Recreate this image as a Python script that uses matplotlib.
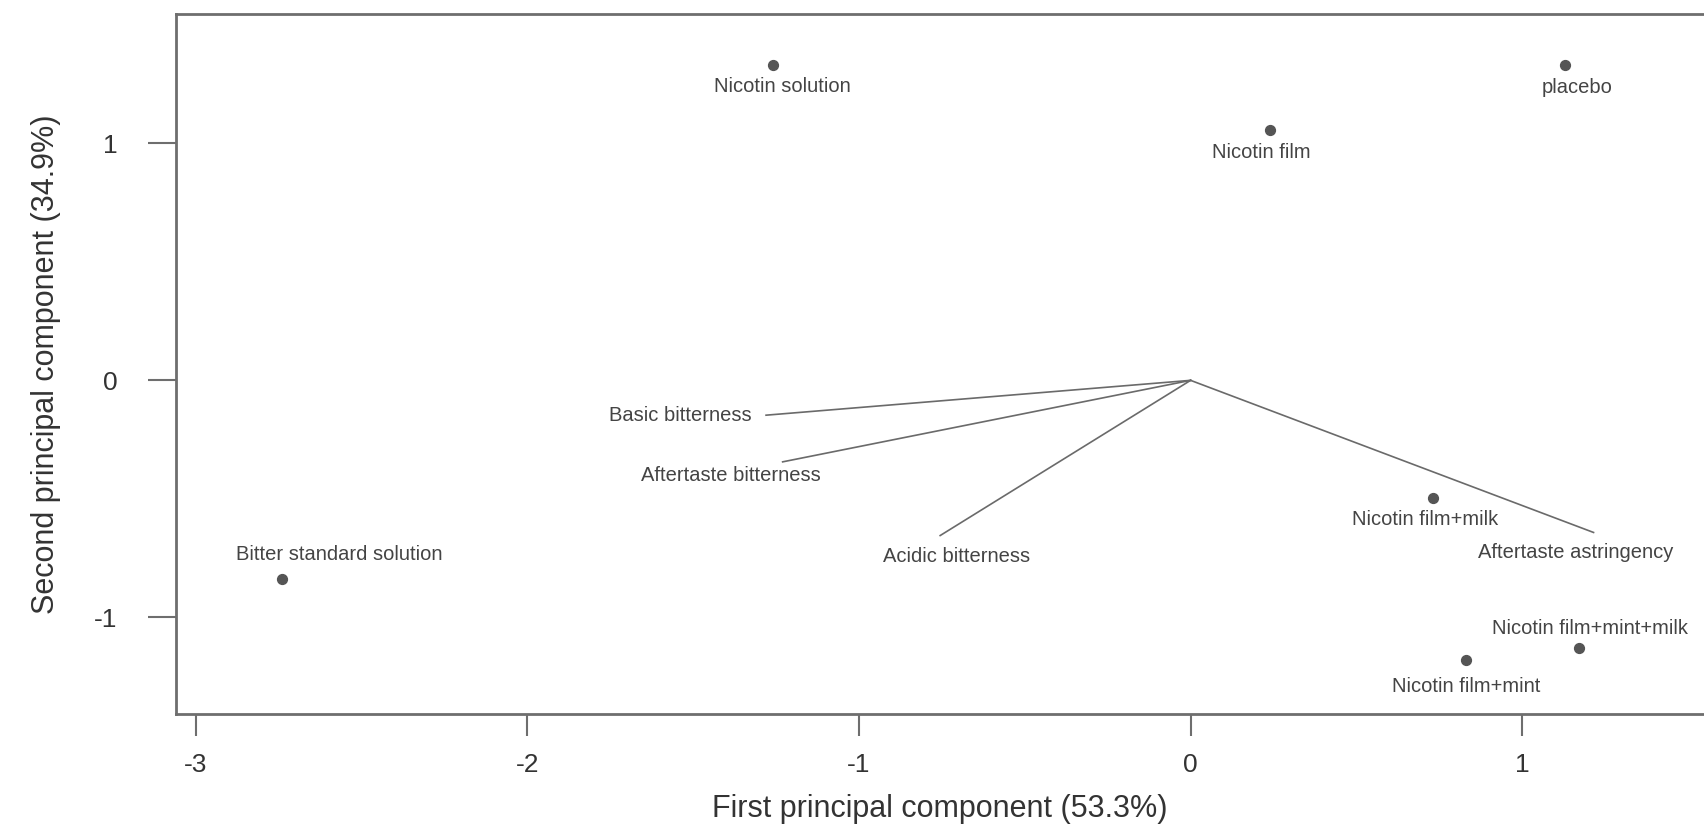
import numpy as np
import matplotlib.pyplot as plt

plt.rcParams['font.family'] = ['Liberation Sans', 'DejaVu Sans']

# sample scores (PC1, PC2)
samples = ['Nicotin solution', 'placebo', 'Nicotin film', 'Bitter standard solution',
           'Nicotin film+milk', 'Nicotin film+mint', 'Nicotin film+mint+milk']
pc1 = [-1.26, 1.13, 0.24, -2.74, 0.73, 0.83, 1.17]
pc2 = [1.33, 1.33, 1.055, -0.84, -0.495, -1.18, -1.13]

# attribute loadings
attributes = ['Basic bitterness', 'Aftertaste bitterness', 'Acidic bitterness', 'Aftertaste astringency']
load1 = [-1.28, -1.23, -0.755, 1.215]
load2 = [-0.147, -0.344, -0.655, -0.642]

# label offsets in pixels
sample_off = [(10, -21), (12, -22), (-9, -22), (57, 25), (-8, -22), (0, -27), (11, 20)]
attr_off = [(-86, 0), (-52, -14), (16, -21), (-18, -20)]

dark = '#555555'
txt = '#444444'

fig = plt.figure(figsize=(17.04, 8.27), dpi=100)
ax = fig.add_axes([0.1033, 0.1367, 0.8967, 0.8463])

for a, x, y, off in zip(attributes, load1, load2, attr_off):
    ax.plot([0, x], [0, y], color='#6a6a6a', lw=1.2)
    ax.annotate(a, (x, y), xytext=off, textcoords='offset pixels',
                ha='center', va='center', fontsize=14.5, color=txt)

ax.scatter(pc1, pc2, s=50, color=dark, zorder=3)
for s, x, y, off in zip(samples, pc1, pc2, sample_off):
    ax.annotate(s, (x, y), xytext=off, textcoords='offset pixels',
                ha='center', va='center', fontsize=14.5, color=txt)

ax.set_xlim(-3.059, 1.548)
ax.set_ylim(-1.408, 1.546)
ax.set_xticks([-3, -2, -1, 0, 1])
ax.set_yticks([-1, 0, 1])
ax.set_yticklabels(['-1', '0', '1'])
ax.set_xticklabels(['-3', '-2', '-1', '0', '1'])

for sp in ['left', 'top', 'bottom']:
    ax.spines[sp].set_color('#6e6e6e')
    ax.spines[sp].set_linewidth(2)
ax.spines['right'].set_visible(False)

ax.tick_params(axis='x', length=16, width=1.5, color='#6e6e6e', labelsize=19,
               labelcolor='#333333', pad=12)
ax.tick_params(axis='y', length=20, width=1.5, color='#6e6e6e', labelsize=19,
               labelcolor='#333333', pad=22)

ax.set_xlabel('First principal component (53.3%)', fontsize=22, color='#333333', labelpad=12)
ax.set_ylabel('Second principal component (34.9%)', fontsize=22, color='#333333', labelpad=24)

fig.savefig('out.png', dpi=100)
